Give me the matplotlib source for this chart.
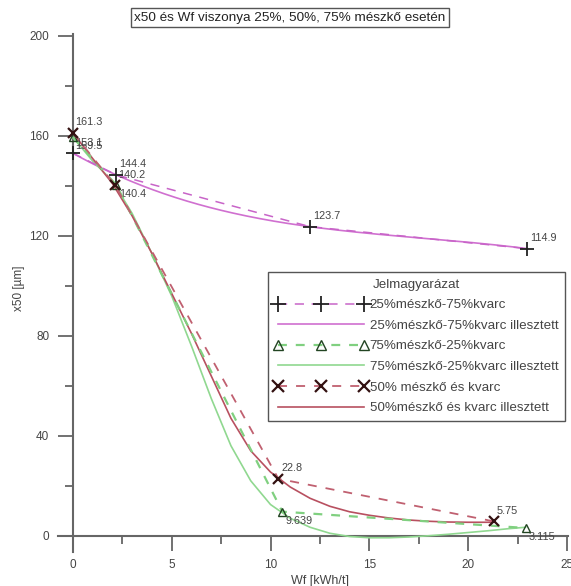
import numpy as np
import matplotlib
matplotlib.use("Agg")
import matplotlib.pyplot as plt
from matplotlib.ticker import MultipleLocator

plt.rcParams['font.family'] = ['Liberation Sans', 'DejaVu Sans']

# Measured points
wf_25 = [0.0, 2.2, 12.0, 23.0]
x50_25 = [153.1, 144.4, 123.7, 114.9]
lab_25 = ["153.1", "144.4", "123.7", "114.9"]

wf_75 = [0.0, 2.2, 10.6, 22.9]
x50_75 = [159.5, 140.4, 9.639, 3.115]
lab_75 = ["159.5", "140.4", "9.639", "3.115"]

wf_50 = [0.0, 2.15, 10.4, 21.3]
x50_50 = [161.3, 140.2, 22.8, 5.75]
lab_50 = ["161.3", "140.2", "22.8", "5.75"]

# Fitted curves
fit75_x = [0, 1, 2, 3, 4, 5, 6, 7, 8, 9, 10, 11, 12, 13, 14, 15, 16, 17, 18,
           19, 20, 21, 22, 22.9]
fit75_y = [159.5, 150, 142, 129, 113, 96, 76, 55, 36, 22, 12.5, 7.0, 3.4, 1.0,
           -0.3, -0.8, -0.8, -0.5, 0.0, 0.6, 1.3, 2.0, 2.8, 3.4]

fit50_x = [0, 1, 2, 3, 4, 5, 6, 7, 8, 9, 10, 11, 12, 13, 14, 15, 16, 17, 18,
           19, 20, 21.3]
fit50_y = [161.3, 151, 141, 128, 113, 97, 81, 64, 47, 34, 25.5, 19.5, 15.0,
           11.8, 9.6, 8.2, 7.1, 6.3, 5.8, 5.5, 5.4, 5.4]

names = ["25%mészkő-75%kvarc", "25%mészkő-75%kvarc illesztett",
         "75%mészkő-25%kvarc", "75%mészkő-25%kvarc illesztett",
         "50% mészkő és kvarc", "50%mészkő és kvarc illesztett"]

c_pink = "#c864c8"
c_pink_fit = "#d070d0"
c_green = "#80d080"
c_green_fit = "#90d890"
c_red = "#c06070"
c_red_fit = "#b85060"
c_axis = "#666666"
c_text = "#444444"

W, H = 571, 586
fig = plt.figure(figsize=(W / 100, H / 100), dpi=100)
ax = fig.add_axes([58 / W, (H - 552) / H, (568 - 58) / W, (552 - 33.5) / H])
ax.set_xlim(-0.75, 25.05)
ax.set_ylim(-6.5, 201)

for s in ["top", "right"]:
    ax.spines[s].set_visible(False)
ax.spines["left"].set_position(("data", 0))
ax.spines["bottom"].set_position(("data", 0))
for s in ["left", "bottom"]:
    ax.spines[s].set_color(c_axis)
    ax.spines[s].set_linewidth(1.5)

ax.xaxis.set_major_locator(MultipleLocator(5))
ax.xaxis.set_minor_locator(MultipleLocator(2.5))
ax.yaxis.set_major_locator(MultipleLocator(40))
ax.yaxis.set_minor_locator(MultipleLocator(20))
ax.tick_params(axis="both", which="major", length=11, width=1.3, color=c_axis,
               labelsize=8.5, labelcolor=c_text, direction="out")
ax.tick_params(axis="both", which="minor", length=6, width=1.3, color=c_axis,
               direction="out")
ax.tick_params(axis="x", which="major", pad=6)
ax.tick_params(axis="y", which="major", pad=6)

# 25% pink: cubic least squares fit of the measured points
p25 = np.polyfit(wf_25, x50_25, 3)
xs25 = np.linspace(min(wf_25), max(wf_25), 200)

l1, = ax.plot(wf_25, x50_25, linestyle=(0, (6, 5)), color=c_pink, lw=1.1,
              marker="+", ms=10, mew=1.3, mec="#222222", zorder=4)
f1, = ax.plot(xs25, np.polyval(p25, xs25), color=c_pink_fit, lw=1.2, zorder=3)

l2, = ax.plot(wf_75, x50_75, linestyle=(0, (4, 4)), color=c_green, lw=1.6,
              marker="^", ms=6, mew=1.0, mfc="none", mec="#224422", zorder=4)
f2, = ax.plot(fit75_x, fit75_y, color=c_green_fit, lw=1.2, zorder=3)

l3, = ax.plot(wf_50, x50_50, linestyle=(0, (5, 5)), color=c_red, lw=1.3,
              marker="x", ms=7, mew=1.6, mec="#331111", zorder=4)
f3, = ax.plot(fit50_x, fit50_y, color=c_red_fit, lw=1.2, zorder=3)

for x, y, t in zip(wf_25, x50_25, lab_25):
    ax.annotate(t, (x, y), xytext=(2, 4), textcoords="offset points",
                fontsize=7.8, color=c_text, ha="left", va="bottom")
for x, y, t in zip(wf_50, x50_50, lab_50):
    ax.annotate(t, (x, y), xytext=(2, 4), textcoords="offset points",
                fontsize=7.8, color=c_text, ha="left", va="bottom")
for x, y, t in zip(wf_75, x50_75, lab_75):
    ax.annotate(t, (x, y), xytext=(2, -3), textcoords="offset points",
                fontsize=7.8, color=c_text, ha="left", va="top")

ax.set_xlabel("Wf [kWh/t]", fontsize=9, color=c_text)
ax.set_ylabel("x50 [µm]", fontsize=8.5, color=c_text)
ax.xaxis.set_label_coords((320 - 58) / (568 - 58), -(575 - 552) / (552 - 33.5))
ax.yaxis.set_label_coords(-(58 - 25) / (568 - 58), (552 - 288) / (552 - 33.5))

leg = fig.legend([l1, f1, l2, f2, l3, f3], names, loc="upper right",
                 bbox_to_anchor=(565 / W, 1 - 272 / H), numpoints=3,
                 handlelength=7.0, handletextpad=0.15, labelspacing=0.62,
                 fontsize=9.6, title="Jelmagyarázat", title_fontsize=9.6,
                 fancybox=False, framealpha=1, edgecolor="#555555",
                 borderpad=0.5, borderaxespad=0, markerscale=1.2)
leg.get_frame().set_linewidth(1.0)
for t in leg.get_texts():
    t.set_color(c_text)
leg.get_title().set_color(c_text)

fig.text(290 / W, 1 - 17.5 / H, "x50 és Wf viszonya 25%, 50%, 75% mészkő esetén",
         ha="center", va="center", fontsize=9.7, color="#222222",
         bbox=dict(boxstyle="square,pad=0.25", fc="white", ec="#555555", lw=1.0))

fig.savefig("out.png", dpi=100)
